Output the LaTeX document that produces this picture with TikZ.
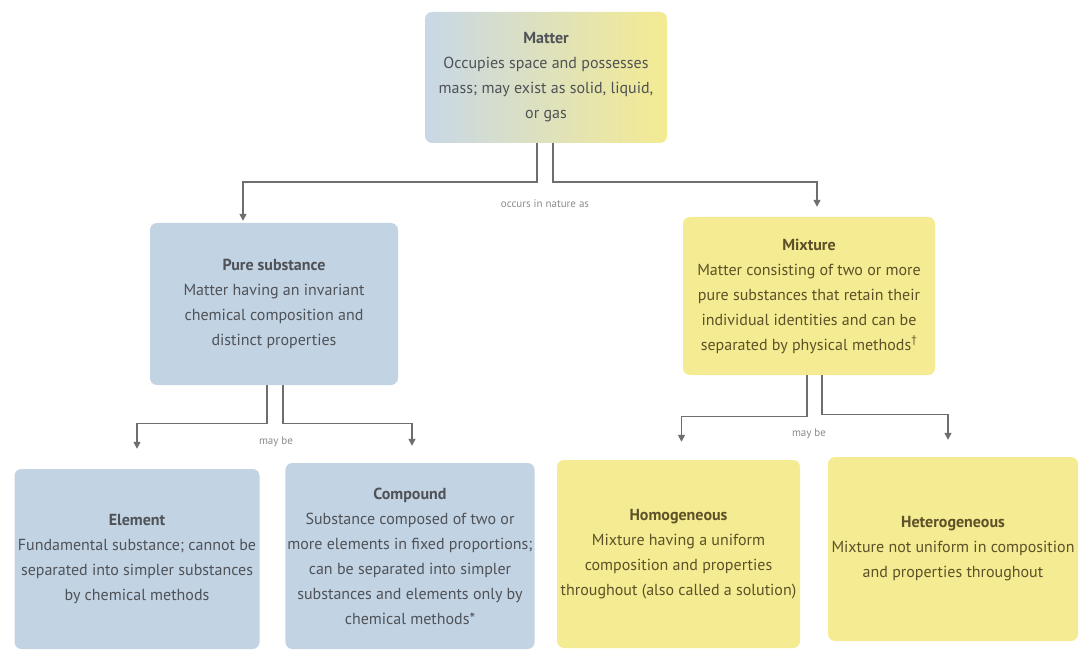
\documentclass[tikz,border=0pt]{standalone}
\usepackage{fontspec}
\setmainfont{PT Sans}
\usetikzlibrary{arrows.meta,calc}
\definecolor{boxblue}{HTML}{C2D3E4}
\definecolor{boxyellow}{HTML}{F4EB92}
\definecolor{txtgray}{HTML}{4F5256}
\definecolor{txtbrown}{HTML}{5E5128}
\definecolor{linegray}{HTML}{6E6E6E}
\tikzset{
  box/.style={rounded corners=7pt, align=center, inner sep=2pt,
    font=\fontsize{16}{25}\selectfont},
  bluebox/.style={box, fill=boxblue, text=txtgray},
  yellowbox/.style={box, fill=boxyellow, text=txtbrown},
  conn/.style={draw=linegray, line width=1.4pt,
    -{Triangle[width=7pt,length=7pt]}},
  lbl/.style={font=\fontsize{11}{12}\selectfont, text=linegray!80}
}
\begin{document}
\begin{tikzpicture}[x=1pt,y=-1pt]
\useasboundingbox (0,0) rectangle (1079,655);
\node[box, left color=boxblue!90!white, right color=boxyellow, text=txtgray,
  minimum width=242pt, minimum height=131pt] (matter) at (546,77.5)
  {\textbf{Matter}\\Occupies space and possesses\\mass; may exist as solid, liquid,\\or gas};
\node[bluebox, minimum width=248pt, minimum height=162pt] (pure) at (274,304)
  {\textbf{Pure substance}\\Matter having an invariant\\chemical composition and\\distinct properties};
\node[yellowbox, minimum width=252pt, minimum height=158pt] (mix) at (809,296)
  {\textbf{Mixture}\\Matter consisting of two or more\\pure substances that retain their\\individual identities and can be\\separated by physical methods\textsuperscript{†}};
\node[bluebox, minimum width=245pt, minimum height=180pt] (elem) at (137,559)
  {\textbf{Element}\\Fundamental substance; cannot be\\separated into simpler substances\\by chemical methods};
\node[bluebox, minimum width=245pt, minimum height=186pt] (comp) at (410,556)
  {\textbf{Compound}\\Substance composed of two or\\more elements in fixed proportions;\\can be separated into simpler\\substances and elements only by\\chemical methods*};
\node[yellowbox, minimum width=243pt, minimum height=188pt] (homo) at (678.5,554)
  {\textbf{Homogeneous}\\Mixture having a uniform\\composition and properties\\throughout (also called a solution)};
\node[yellowbox, minimum width=250pt, minimum height=184pt] (hetero) at (953,549)
  {\textbf{Heterogeneous}\\Mixture not uniform in composition\\and properties throughout};

\draw[conn, shorten >=2pt] ([xshift=-9pt]matter.south) -- ++(0,39) -| ([xshift=-31pt]pure.north);
\draw[conn, shorten >=10pt] ([xshift=7pt]matter.south) -- ++(0,39) -| ([xshift=8pt]mix.north);
\node[lbl] (occ) at (545,204) {occurs in nature as};

\draw[conn, shorten >=20pt] ([xshift=-7pt]pure.south) -- ++(0,38) -| (elem.north);
\draw[conn, shorten >=17pt] ([xshift=9pt]pure.south) -- ++(0,38) -| ([xshift=2pt]comp.north);
\node[lbl] (maybe1) at (276,442) {may be};

\draw[conn, shorten >=18pt] ([xshift=-2pt]mix.south) -- ++(0,41) -| ([xshift=3pt]homo.north);
\draw[conn, shorten >=17pt] ([xshift=13pt]mix.south) -- ++(0,39) -| ([xshift=-5pt]hetero.north);
\node[lbl] (maybe2) at (809,434) {may be};
\end{tikzpicture}
\end{document}
